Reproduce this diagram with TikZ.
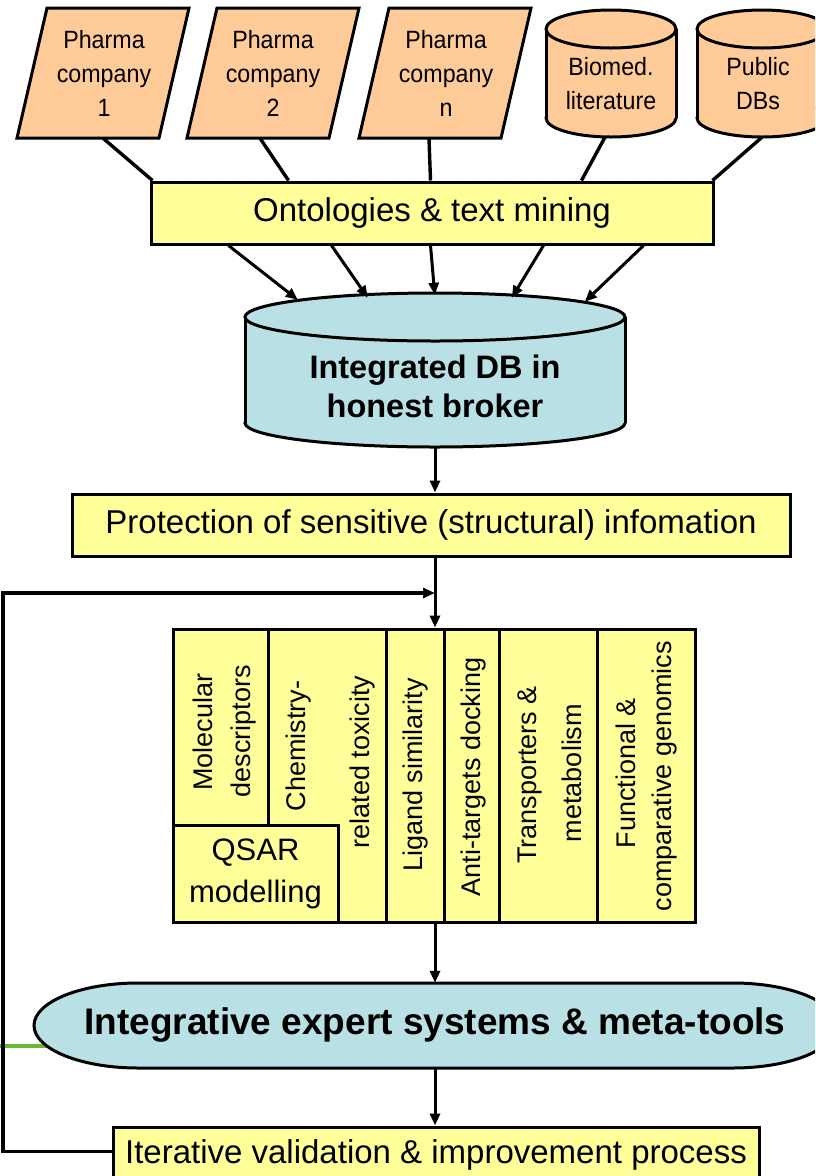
\documentclass[tikz,border=0pt]{standalone}
\usepackage{fontspec}
\setmainfont{Liberation Sans}
\newfontfamily\narrowfont[FakeStretch=0.93]{Liberation Sans}
\usetikzlibrary{arrows.meta,calc}
\definecolor{peach}{HTML}{FFCC99}
\definecolor{lyellow}{HTML}{FFFF99}
\definecolor{lblue}{HTML}{B9E0E4}
\definecolor{lgreen}{HTML}{66BB2E}
\begin{document}
\begin{tikzpicture}[x=1pt,y=-1pt,
  outl/.style={draw=black,line width=3pt},
  ybox/.style={outl,fill=lyellow,inner sep=0pt},
  src/.style={inner sep=0pt,align=center,font=\narrowfont\fontsize{25}{34}\selectfont},
  conn/.style={line width=3.4pt},
  arr/.style={line width=3pt,-{Triangle[length=12pt,width=10pt]}},
  coltext/.style={rotate=90,inner sep=0pt,font=\fontsize{27}{30}\selectfont},
  bigtext/.style={font=\fontsize{33}{38}\selectfont},
  sep/.style={line width=3pt},
]
\useasboundingbox (0,0) rectangle (815,1176);
\clip (0,0) rectangle (815,1176);

% ---------- sources ----------
\path[outl,fill=peach] (17,138) -- (47,8) -- (189,8) -- (159,138) -- cycle;
\path[outl,fill=peach] (187,138) -- (217,8) -- (359,8) -- (329,138) -- cycle;
\path[outl,fill=peach] (359,138) -- (389,8) -- (531,8) -- (501,138) -- cycle;
\node[src,minimum width=142,minimum height=130] (p1) at (104,73) {Pharma\\company\\1};
\node[src,minimum width=142,minimum height=130] (p2) at (273,73) {Pharma\\company\\2};
\node[src,minimum width=142,minimum height=130] (p3) at (446,73) {Pharma\\company\\n};

% cylinders (Biomed., Public DBs)
\path[outl,fill=peach] (611,118) ellipse[x radius=65,y radius=19];
\fill[peach] (546,29) rectangle (676,118);
\draw[sep] (546,29) -- (546,118) (676,29) -- (676,118);
\path[outl,fill=peach] (611,29) ellipse[x radius=65,y radius=19];
\node[src,minimum width=130,minimum height=128] (bio) at (611,73) {};
\node[src] (biot) at (611,84) {Biomed.\\literature};

\path[outl,fill=peach] (762,118) ellipse[x radius=65,y radius=19];
\fill[peach] (697,29) rectangle (827,118);
\draw[sep] (697,29) -- (697,118) (827,29) -- (827,118);
\path[outl,fill=peach] (762,29) ellipse[x radius=65,y radius=19];
\node[src,minimum width=130,minimum height=128] (pub) at (762,73) {};
\node[src] (pubt) at (758,84) {Public\\DBs};

% ---------- ontologies ----------
\node[ybox,bigtext,minimum width=562,minimum height=62] (ont) at (432,213) {Ontologies \& text mining};

\draw[conn] ($(p1.south)+(-1,0)$) -- ($(ont.north west)+(3,0)$);
\draw[conn] ($(p2.south)+(-13,0)$) -- ($(ont.north west)+(139,0)$);
\draw[conn] ($(p3.south)+(-17,0)$) -- ($(ont.north west)+(281,0)$);
\draw[conn] ($(bio.south)+(-6,0)$) -- ($(ont.north west)+(432,0)$);
\draw[conn] (pub.south) -- ($(ont.north east)+(-2,0)$);

% ---------- integrated DB ----------
\path[outl,fill=lblue] (435,423) ellipse[x radius=190,y radius=24];
\fill[lblue] (245,317) rectangle (625,423);
\draw[sep] (245,317) -- (245,423) (625,317) -- (625,423);
\path[outl,fill=lblue] (435,317) ellipse[x radius=190,y radius=24];
\node[inner sep=0pt,minimum width=380,minimum height=154] (db) at (435,370) {};
\node[inner sep=0pt,align=center,font=\bfseries\fontsize{32.5}{39}\selectfont] (dbt) at (435,386) {Integrated DB in\\honest broker};

\draw[arr] ($(ont.south west)+(79,0)$) -- ($(db.north west)+(53,7)$);
\draw[arr] ($(ont.south west)+(182,0)$) -- ($(db.north west)+(123,5)$);
\draw[arr] ($(ont.south west)+(281,0)$) -- ($(db.north west)+(190,2)$);
\draw[arr] ($(ont.south west)+(394,0)$) -- ($(db.north west)+(267,5)$);
\draw[arr] ($(ont.south west)+(494,0)$) -- ($(db.north west)+(340,9)$);

% ---------- protection ----------
\node[ybox,bigtext,minimum width=718,minimum height=62] (prot) at (431,525) {Protection of sensitive (structural) infomation};
\draw[arr] (db.south) -- (db.south |- prot.north);

% ---------- tools block ----------
\node[ybox,minimum width=522,minimum height=293] (tools) at (434,775.5) {};
\draw[sep] (268,629) -- (268,825);
\draw[sep] (386,629) -- (386,922);
\draw[sep] (444,629) -- (444,922);
\draw[sep] (499,629) -- (499,922);
\draw[sep] (597,629) -- (597,922);
\node[ybox,minimum width=165,minimum height=97,align=center,font=\fontsize{31}{42}\selectfont] (qsar) at (255.5,873.5) {QSAR\\modelling};

\node[coltext] (md1) at (203,732) {Molecular};
\node[coltext] (md2) at (244,731) {descriptors};
\node[coltext] (ct1) at (299,746) {Chemistry-};
\node[coltext] (ct2) at (363,762) {related toxicity};
\node[coltext] (ls) at (416,775) {Ligand similarity};
\node[coltext] (atd) at (474,777) {Anti-targets docking};
\node[coltext] (tm1) at (530,775) {Transporters \&};
\node[coltext] (tm2) at (572,773) {metabolism};
\node[coltext] (fg1) at (626,773) {Functional \&};
\node[coltext] (fg2) at (665,776) {comparative genomics};

\draw[arr] (db.south |- prot.south) -- (db.south |- tools.north);

% ---------- integrative expert systems ----------
\coordinate (g0) at (0,1046);
\coordinate (g1) at (52,1046);
\draw[lgreen,line width=4pt] (g0) -- (g1);
\path[outl,fill=lblue] (138,983) -- (733,983)
  arc[start angle=-90,end angle=90,x radius=104,y radius=42.5]
  -- (138,1068)
  arc[start angle=90,end angle=270,x radius=104,y radius=42.5] -- cycle;
\node[inner sep=0pt,minimum width=803,minimum height=85,font=\bfseries\fontsize{37}{40}\selectfont] (ies) at (435,1025.5) {Integrative expert systems \& meta-tools};
\draw[arr] (db.south |- tools.south) -- (db.south |- ies.north);

% ---------- iterative validation ----------
\node[ybox,bigtext,minimum width=646,minimum height=56] (iter) at (436,1155) {Iterative validation \& improvement process};
\draw[arr] (db.south |- ies.south) -- (db.south |- iter.north);

\coordinate (fb) at (3,593);
\draw[line width=3.4pt,-{Triangle[length=12pt,width=10pt]}] ($(iter.north west)+(0,26)$) -| (fb) -- (fb -| db.south);
\end{tikzpicture}
\end{document}
